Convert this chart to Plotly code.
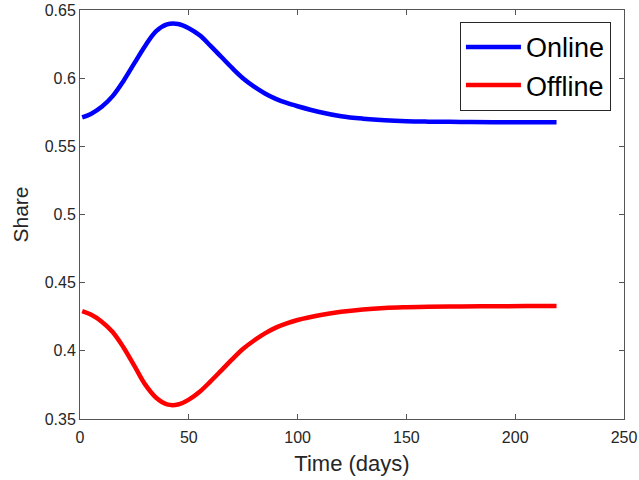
import plotly.graph_objects as go

time_days = [1, 5, 10, 15, 20, 25, 30, 35, 40, 45, 50, 55, 60, 65, 70, 75, 80, 85, 90,
             95, 100, 110, 120, 130, 140, 150, 160, 175, 190, 205, 219]
online = [0.5712, 0.5738, 0.5790, 0.5868, 0.5980, 0.6110, 0.6238, 0.6345, 0.6395,
          0.6398, 0.6367, 0.6314, 0.6237, 0.6155, 0.6073, 0.5998, 0.5938, 0.5888,
          0.5848, 0.5818, 0.5794, 0.5752, 0.5721, 0.5703, 0.5691, 0.5684, 0.5681,
          0.5679, 0.5677, 0.5677, 0.5676]
offline = [0.4292, 0.4266, 0.4214, 0.4138, 0.4025, 0.3890, 0.3752, 0.3656, 0.3607,
           0.3606, 0.3642, 0.3700, 0.3776, 0.3857, 0.3939, 0.4015, 0.4076, 0.4128,
           0.4170, 0.4201, 0.4226, 0.4261, 0.4286, 0.4303, 0.4314, 0.4320, 0.4324,
           0.4326, 0.4327, 0.4328, 0.4328]

x_ticks = [0, 50, 100, 150, 200, 250]
y_ticks = [0.35, 0.4, 0.45, 0.5, 0.55, 0.6, 0.65]
y_tick_labels = ["0.35", "0.4", "0.45", "0.5", "0.55", "0.6", "0.65"]

FONT = "Liberation Sans, Arial, sans-serif"

fig = go.Figure()
fig.add_trace(go.Scatter(x=time_days, y=online, mode="lines", name="Online",
                         line=dict(color="#0000FF", width=4.5, shape="spline", smoothing=1.0)))
fig.add_trace(go.Scatter(x=time_days, y=offline, mode="lines", name="Offline",
                         line=dict(color="#FF0000", width=4.5, shape="spline", smoothing=1.0)))

axis_common = dict(showgrid=False, zeroline=False, showline=True, linecolor="#555555",
                   linewidth=1, mirror="allticks", ticks="inside", ticklen=5,
                   tickcolor="#555555", automargin=False,
                   tickfont=dict(family=FONT, size=16, color="#262626"))

fig.update_xaxes(range=[0, 250], tickvals=x_ticks, ticklabelstandoff=4,
                 title=dict(text="Time (days)", font=dict(family=FONT, size=22, color="#262626"), standoff=10),
                 **axis_common)
fig.update_yaxes(range=[0.35, 0.65], tickvals=y_ticks, ticktext=y_tick_labels,
                 title=dict(text="Share", font=dict(family=FONT, size=21, color="#262626"), standoff=10),
                 **axis_common)

fig.update_layout(
    width=639, height=480,
    margin=dict(l=80, r=15, t=10, b=61),
    plot_bgcolor="white", paper_bgcolor="white",
    legend=dict(x=0.976, y=0.971, xanchor="right", yanchor="top",
                bgcolor="white", bordercolor="#262626", borderwidth=1,
                font=dict(family=FONT, size=27, color="black"),
                tracegroupgap=0, itemwidth=55),
)

fig.write_html("out.html", config={"displayModeBar": False},
               post_script="document.body.style.margin='0';document.body.style.overflow='hidden';")
